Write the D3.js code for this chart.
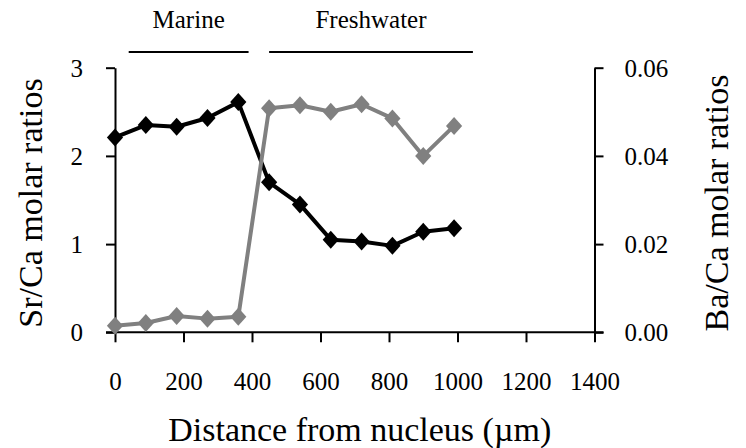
<!DOCTYPE html>
<html>
<head>
<meta charset="utf-8">
<script src="https://cdn.jsdelivr.net/npm/d3@7"></script>
<style>
  html, body { margin: 0; padding: 0; background: #fff; }
  svg { display: block; }
</style>
</head>
<body>
<svg id="chart" width="746" height="448"></svg>
<script>
// ---- data ----
const distance = [0, 90, 180, 270, 360, 450, 540, 630, 720, 810, 900, 990];
const srCa = [2.21, 2.35, 2.33, 2.43, 2.61, 1.70, 1.45, 1.05, 1.03, 0.98, 1.14, 1.18];
const baCa = [0.0015, 0.0021, 0.0037, 0.0031, 0.0035, 0.0508, 0.0515, 0.0500, 0.0517, 0.0485, 0.0400, 0.0468];
const xTicks = [0, 200, 400, 600, 800, 1000, 1200, 1400];
const yLeftTicks = [0, 1, 2, 3];
const yRightTicks = [0, 0.02, 0.04, 0.06];
const phases = ["Marine", "Freshwater"];
const phaseStart = [40, 450];
const phaseEnd = [390, 1045];

// ---- layout ----
const FONT = "'Liberation Serif', 'Times New Roman', Times, serif";
const svg = d3.select("#chart").attr("font-family", FONT);
const x = d3.scaleLinear().domain([0, 1400]).range([115, 594.5]);
const yL = d3.scaleLinear().domain([0, 3]).range([332.3, 67.7]);
const yR = d3.scaleLinear().domain([0, 0.06]).range([332.3, 67.7]);

const tickFont = 25;
const titleFont = 34;

function styleAxis(g) {
  g.attr("font-family", FONT).attr("font-size", tickFont);
  g.selectAll(".tick line").attr("stroke", "#000").attr("stroke-width", 2);
  g.selectAll(".tick text").attr("fill", "#000").attr("font-family", FONT).attr("font-size", tickFont);
}

// x axis
const gx = svg.append("g").attr("transform", `translate(0,${yL(0)})`)
  .call(d3.axisBottom(x).tickValues(xTicks).tickSize(10).tickSizeOuter(0).tickPadding(0).tickFormat(d3.format("d")));
gx.select(".domain").remove();
styleAxis(gx);
gx.selectAll(".tick text").attr("dy", null).attr("y", 58);
svg.append("line").attr("x1", x(0) - 9).attr("x2", x(1400) + 9)
  .attr("y1", yL(0)).attr("y2", yL(0)).attr("stroke", "#000").attr("stroke-width", 2);

// left axis
const gl = svg.append("g").attr("transform", `translate(${x(0)},0)`)
  .call(d3.axisLeft(yL).tickValues(yLeftTicks).tickSize(9).tickSizeOuter(0).tickPadding(23).tickFormat(d3.format("d")));
gl.select(".domain").attr("stroke", "#000").attr("stroke-width", 2);
styleAxis(gl);
gl.selectAll(".tick text").attr("dy", "0.34em");

// right axis
const gr = svg.append("g").attr("transform", `translate(${x(1400)},0)`)
  .call(d3.axisRight(yR).tickValues(yRightTicks).tickSize(9).tickSizeOuter(0).tickPadding(21).tickFormat(d3.format(".2f")));
gr.select(".domain").attr("stroke", "#000").attr("stroke-width", 2);
styleAxis(gr);
gr.selectAll(".tick text").attr("dy", "0.34em");

// axis titles
svg.append("text").attr("x", (x(0) + x(1400)) / 2 + 5).attr("y", 441)
  .attr("text-anchor", "middle").attr("font-size", titleFont).attr("font-family", FONT)
  .text("Distance from nucleus (µm)");
svg.append("text").attr("transform", `translate(42,${(yL(0) + yL(3)) / 2 + 3}) rotate(-90)`)
  .attr("text-anchor", "middle").attr("font-size", titleFont).attr("font-family", FONT)
  .text("Sr/Ca molar ratios");
svg.append("text").attr("transform", `translate(728,${(yL(0) + yL(3)) / 2 + 3}) rotate(-90)`)
  .attr("text-anchor", "middle").attr("font-size", titleFont).attr("font-family", FONT)
  .text("Ba/Ca molar ratios");

// phase annotations
phases.forEach((p, i) => {
  svg.append("line").attr("x1", x(phaseStart[i])).attr("x2", x(phaseEnd[i]))
    .attr("y1", 52).attr("y2", 52).attr("stroke", "#000").attr("stroke-width", 2);
  svg.append("text").attr("x", (x(phaseStart[i]) + x(phaseEnd[i])) / 2).attr("y", 28)
    .attr("text-anchor", "middle").attr("font-size", 25).attr("font-family", FONT).text(p);
});

// series
const diamond = (cx, cy, r) => `M${cx},${cy - r}L${cx + r * 0.9},${cy}L${cx},${cy + r}L${cx - r * 0.9},${cy}Z`;

function drawSeries(vals, yScale, color) {
  const line = d3.line().x((d, i) => x(distance[i])).y(d => yScale(d));
  svg.append("path").datum(vals).attr("d", line)
    .attr("fill", "none").attr("stroke", color).attr("stroke-width", 4).attr("stroke-linejoin", "round");
  svg.append("g").selectAll("path").data(vals).join("path")
    .attr("d", (d, i) => diamond(x(distance[i]), yScale(d), 9))
    .attr("fill", color);
}
drawSeries(srCa, yL, "#000");
drawSeries(baCa, yR, "#808080");
</script>
</body>
</html>
